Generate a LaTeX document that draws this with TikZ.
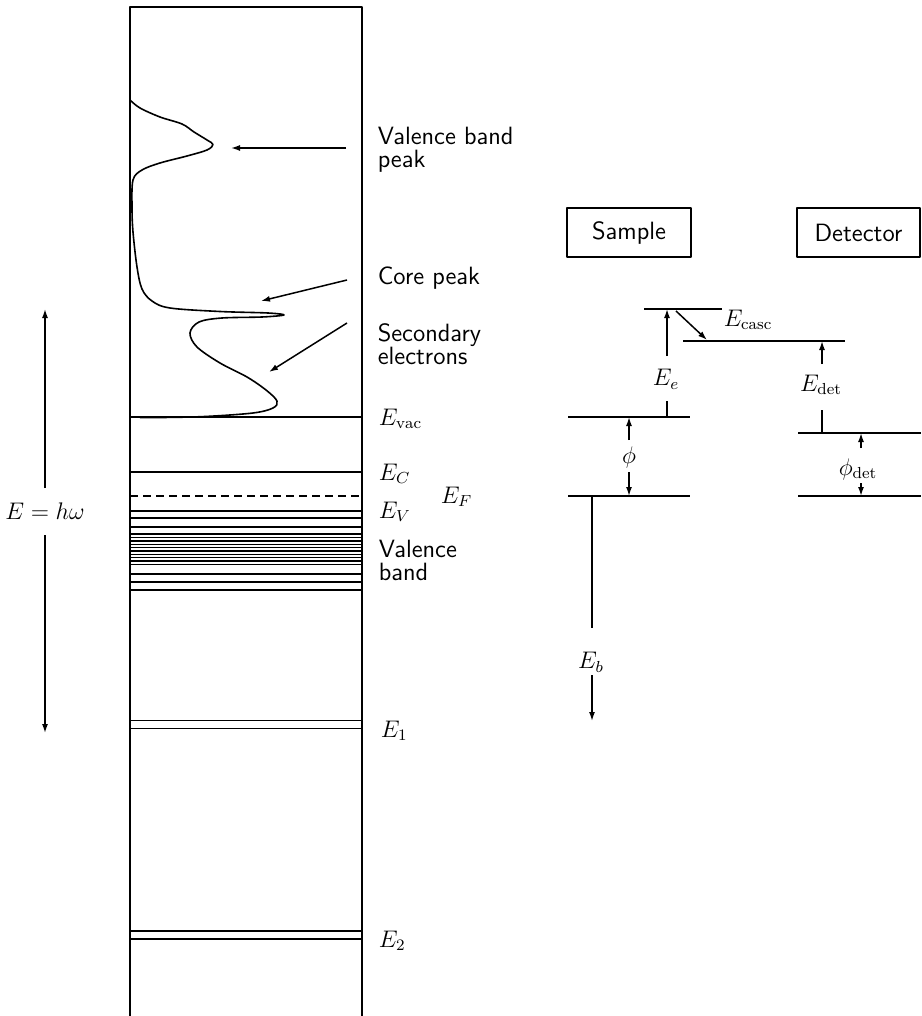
\documentclass[tikz,border=0pt]{standalone}
\usepackage{fontspec}
\usetikzlibrary{arrows.meta}
\begin{document}
\begin{tikzpicture}[x=0.5pt,y=-0.5pt, line width=0.75pt, line join=round,
  tip/.style={-{Latex[length=4.5pt,width=3pt]}},
  lbl/.style={font=\fontsize{12.5}{11.5}\selectfont\sffamily, anchor=base west, align=left, inner sep=0pt},
  mth/.style={font=\fontsize{12}{14}\selectfont, inner sep=0pt},
  boxlbl/.style={draw, font=\fontsize{12.5}{14}\selectfont\sffamily, inner sep=0pt, minimum height=24.5pt}]
\useasboundingbox (0,0) rectangle (921,1016);

% main column
\coordinate (bTL) at (130,7); \coordinate (bTR) at (362,7);
\coordinate (bBL) at (130,1016); \coordinate (bBR) at (362,1016);
\draw (bBL) -- (bTL) -- (bTR) -- (bBR);

% levels
\foreach \y in {417,472,511,518,527,534,537.7,541,544.3,547.7,551,554.3,557.7,561,564.3,574,582,590,720.5,728.5,931,939}
  \draw (130,\y) -- (362,\y);
\draw[dash pattern=on 4pt off 2.5pt] (130,496) -- (362,496);

% spectrum curve
\draw[line width=0.8pt] plot[smooth, tension=0.55] coordinates {
 (130,100) (140,108) (160,117) (182,124) (194,132) (207,140) (213,144.5)
 (207,150) (187,156) (160,163) (142,170) (133,180) (132,207) (133,232)
 (137,267) (142,289) (152,301) (170,308) (220,311.5) (268,313) (284,315)
 (262,317) (222,318) (199,322) (190,333) (197,347) (220,363) (247,377)
 (266,390) (277,401) (273,408) (253,413) (205,416.5) (163,417.5) (140,417.5)};

% labels of the column
\node[lbl] (vbp) at (377,168) {Valence band\\peak};
\node[lbl] (core) at (377,285) {Core peak};
\node[lbl] (sec) at (377,364) {Secondary\\electrons};
\node[lbl] (vb) at (378,580) {Valence\\band};
\node[mth, anchor=base west] (Evac) at (378,425) {$E_{\mathrm{vac}}$};
\node[mth, anchor=base west] (EC) at (378,480) {$E_C$};
\node[mth, anchor=base west] (EV) at (378,518) {$E_V$};
\node[mth, anchor=base west] (EF) at (440,503) {$E_F$};
\node[mth, anchor=base west] (E1) at (380,737) {$E_1$};
\node[mth, anchor=base west] (E2) at (378,947) {$E_2$};

% pointer arrows
\coordinate (vbpT) at (346,148); \coordinate (vbpH) at (231,148);
\coordinate (coreT) at (347,280); \coordinate (coreH) at (261,301);
\coordinate (secT) at (347,323); \coordinate (secH) at (269,372);
\draw[tip] (vbpT) -- (vbpH);
\draw[tip] (coreT) -- (coreH);
\draw[tip] (secT) -- (secH);

% photon energy
\node[mth] (Ehw) at (45,511) {$E = h\omega$};
\coordinate (hwT) at (45,309); \coordinate (hwB) at (45,733);
\coordinate (hwTs) at (45,488); \coordinate (hwBs) at (45,535);
\draw[tip] (hwTs) -- (hwT);
\draw[tip] (hwBs) -- (hwB);

% right diagram: boxes
\node[boxlbl, minimum width=62pt] (sample) at (629,232.5) {Sample};
\node[boxlbl, minimum width=61.5pt] (detector) at (858.5,232.5) {Detector};

% levels
\coordinate (sTopL) at (644,309); \coordinate (sTopR) at (722,309);
\coordinate (dTopL) at (683,341); \coordinate (dTopR) at (845,341);
\coordinate (sVacL) at (568,417); \coordinate (sVacR) at (690,417);
\coordinate (sFL) at (568,496); \coordinate (sFR) at (690,496);
\coordinate (dVacL) at (798,433); \coordinate (dVacR) at (921,433);
\coordinate (dFL) at (798,496); \coordinate (dFR) at (921,496);
\draw (sTopL) -- (sTopR);
\draw (dTopL) -- (dTopR);
\draw (sVacL) -- (sVacR);
\draw (sFL) -- (sFR);
\draw (dVacL) -- (dVacR);
\draw (dFL) -- (dFR);

% E_e
\node[mth] (Ee) at (666,379) {$E_e$};
\coordinate (Ee1) at (667,417); \coordinate (Ee2) at (667,401);
\coordinate (Ee3) at (667,356); \coordinate (Ee4) at (667,309);
\draw (Ee1) -- (Ee2);
\draw[tip] (Ee3) -- (Ee4);

% E_casc
\node[mth, anchor=west] (Ecasc) at (723,320) {$E_{\mathrm{casc}}$};
\coordinate (casc1) at (676,311); \coordinate (casc2) at (707,340);
\draw[tip] (casc1) -- (casc2);

% E_det
\node[mth] (Edet) at (821,385) {$E_{\mathrm{det}}$};
\coordinate (Ed1) at (822,433); \coordinate (Ed2) at (822,410);
\coordinate (Ed3) at (822,364); \coordinate (Ed4) at (822,341);
\draw (Ed1) -- (Ed2);
\draw[tip] (Ed3) -- (Ed4);

% phi
\node[mth] (phi) at (629,457) {$\phi$};
\coordinate (ph1) at (629,440); \coordinate (ph2) at (629,417);
\coordinate (ph3) at (629,472); \coordinate (ph4) at (629,496);
\draw[tip] (ph1) -- (ph2);
\draw[tip] (ph3) -- (ph4);

% phi_det
\node[mth] (phid) at (858,469) {$\phi_{\mathrm{det}}$};
\coordinate (pd1) at (861,448); \coordinate (pd2) at (861,433);
\coordinate (pd3) at (861,483); \coordinate (pd4) at (861,496);
\draw[tip] (pd1) -- (pd2);
\draw[tip] (pd3) -- (pd4);

% E_b
\node[mth] (Eb) at (591,662) {$E_b$};
\coordinate (Eb1) at (592,496); \coordinate (Eb2) at (592,628);
\coordinate (Eb3) at (592,675); \coordinate (Eb4) at (592,721);
\draw (Eb1) -- (Eb2);
\draw[tip] (Eb3) -- (Eb4);
\end{tikzpicture}
\end{document}
